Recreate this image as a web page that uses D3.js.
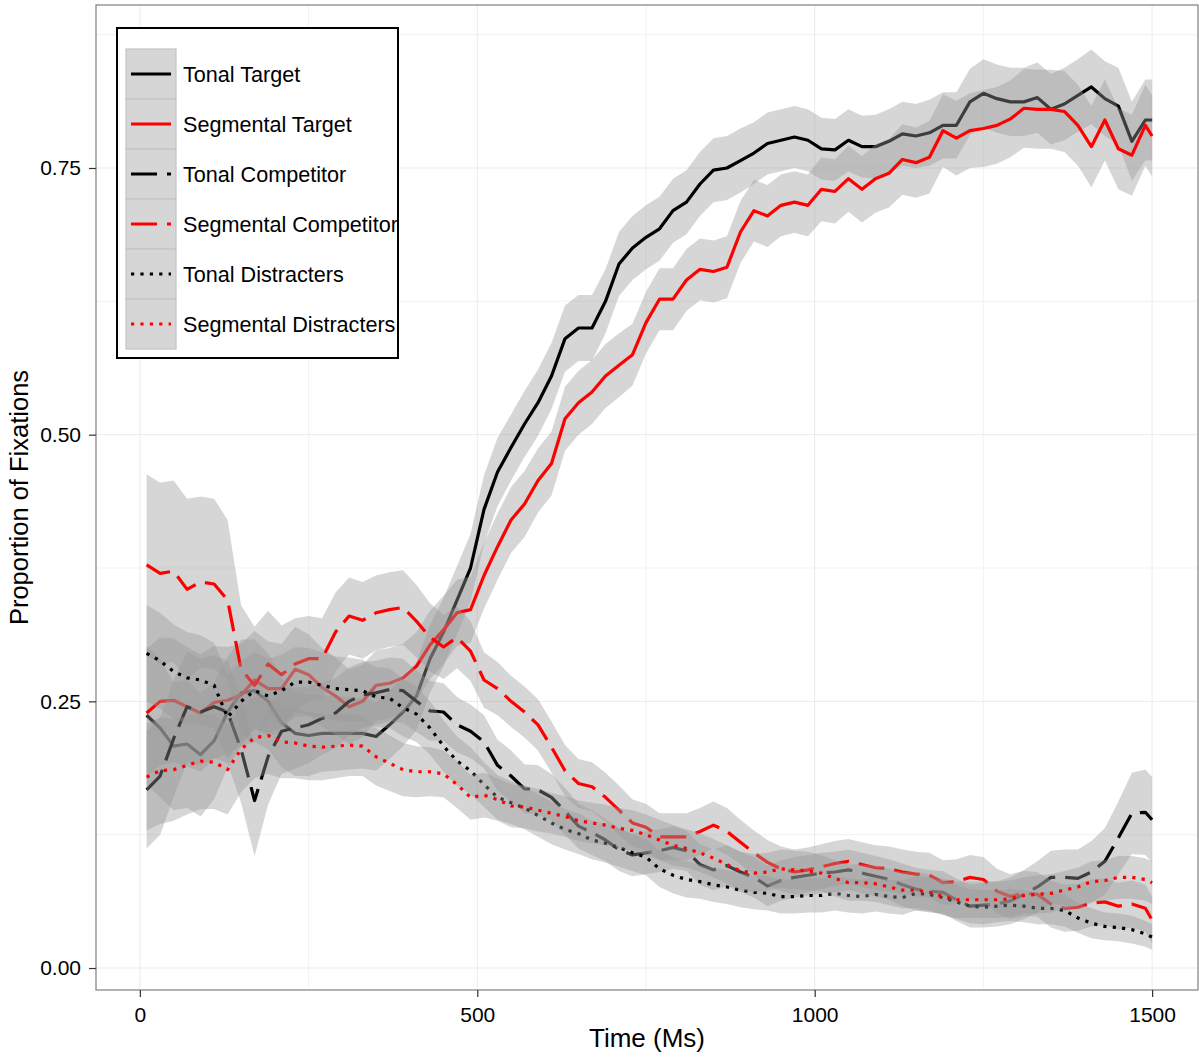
<!DOCTYPE html>
<html>
<head>
<meta charset="utf-8">
<script src="https://cdn.jsdelivr.net/npm/d3@7"></script>
<style>
  body { margin: 0; background: #fff; }
  text { font-family: "Liberation Sans", Arial, Helvetica, sans-serif; }
</style>
</head>
<body>
<div id="chart"></div>
<script>
// time bins (ms)
const time = d3.range(10, 1500, 20).concat([1500]);

// mean proportion of fixations per condition
const tonalTarget = [
    0.237, 0.225, 0.208, 0.21, 0.20, 0.213, 0.24, 0.258, 0.26, 0.25,
    0.23, 0.22, 0.218, 0.22, 0.22, 0.22, 0.22, 0.217, 0.228, 0.24,
    0.255, 0.29, 0.315, 0.345, 0.375, 0.43, 0.465, 0.488, 0.51, 0.53,
    0.555, 0.59, 0.60, 0.60, 0.625, 0.66, 0.675, 0.685, 0.693, 0.71,
    0.718, 0.735, 0.748, 0.75, 0.757, 0.764, 0.773, 0.776, 0.779, 0.776,
    0.768, 0.767, 0.776, 0.77, 0.77, 0.775, 0.782, 0.78, 0.783, 0.79,
    0.79, 0.812, 0.82, 0.815, 0.812, 0.812, 0.816, 0.805, 0.81, 0.818,
    0.826, 0.815, 0.808, 0.775, 0.795, 0.795];
const segmentalTarget = [
    0.239, 0.25, 0.251, 0.245, 0.239, 0.249, 0.251, 0.256, 0.27, 0.262,
    0.262, 0.28, 0.275, 0.263, 0.255, 0.245, 0.25, 0.265, 0.267, 0.272,
    0.283, 0.303, 0.317, 0.333, 0.336, 0.368, 0.395, 0.42, 0.435, 0.457,
    0.473, 0.515, 0.53, 0.54, 0.555, 0.565, 0.575, 0.605, 0.627, 0.627,
    0.645, 0.655, 0.653, 0.657, 0.69, 0.71, 0.705, 0.715, 0.718, 0.715,
    0.73, 0.728, 0.74, 0.73, 0.74, 0.745, 0.758, 0.755, 0.76, 0.785,
    0.778, 0.785, 0.787, 0.79, 0.796, 0.806, 0.805, 0.805, 0.803, 0.79,
    0.77, 0.795, 0.768, 0.762, 0.79, 0.78];
const tonalCompetitor = [
    0.167, 0.18, 0.215, 0.245, 0.24, 0.245, 0.24, 0.205, 0.157, 0.198,
    0.222, 0.225, 0.228, 0.234, 0.239, 0.25, 0.256, 0.258, 0.261, 0.26,
    0.25, 0.241, 0.24, 0.228, 0.222, 0.212, 0.19, 0.18, 0.168, 0.167,
    0.16, 0.147, 0.133, 0.127, 0.12, 0.111, 0.106, 0.108, 0.11, 0.113,
    0.11, 0.097, 0.092, 0.096, 0.09, 0.085, 0.077, 0.082, 0.085, 0.087,
    0.089, 0.09, 0.092, 0.089, 0.086, 0.083, 0.078, 0.074, 0.072, 0.071,
    0.064, 0.058, 0.059, 0.06, 0.063, 0.069, 0.076, 0.085, 0.085, 0.084,
    0.09, 0.10, 0.122, 0.145, 0.146, 0.139];
const segmentalCompetitor = [
    0.378, 0.37, 0.372, 0.355, 0.362, 0.36, 0.345, 0.28, 0.265, 0.285,
    0.275, 0.285, 0.29, 0.29, 0.315, 0.33, 0.326, 0.333, 0.336, 0.338,
    0.325, 0.31, 0.301, 0.31, 0.297, 0.27, 0.262, 0.25, 0.24, 0.228,
    0.207, 0.185, 0.173, 0.17, 0.16, 0.148, 0.136, 0.132, 0.123, 0.123,
    0.123, 0.128, 0.134, 0.128, 0.118, 0.108, 0.099, 0.093, 0.09, 0.092,
    0.095, 0.098, 0.10, 0.097, 0.094, 0.093, 0.09, 0.088, 0.087, 0.08,
    0.081, 0.085, 0.083, 0.072, 0.067, 0.07, 0.069, 0.06, 0.056, 0.057,
    0.061, 0.062, 0.058, 0.06, 0.056, 0.045];
const tonalDistracters = [
    0.295, 0.288, 0.278, 0.272, 0.27, 0.265, 0.235, 0.25, 0.26, 0.255,
    0.26, 0.268, 0.268, 0.265, 0.262, 0.261, 0.26, 0.254, 0.253, 0.244,
    0.238, 0.225, 0.208, 0.194, 0.185, 0.172, 0.16, 0.155, 0.15, 0.143,
    0.136, 0.13, 0.126, 0.12, 0.117, 0.113, 0.108, 0.104, 0.093, 0.087,
    0.083, 0.081, 0.078, 0.076, 0.073, 0.071, 0.07, 0.067, 0.067, 0.068,
    0.068, 0.07, 0.068, 0.067, 0.069, 0.067, 0.066, 0.07, 0.069, 0.066,
    0.062, 0.058, 0.057, 0.058, 0.059, 0.058, 0.056, 0.056, 0.054, 0.047,
    0.042, 0.039, 0.038, 0.036, 0.032, 0.029];
const segmentalDistracters = [
    0.179, 0.185, 0.186, 0.19, 0.194, 0.193, 0.186, 0.205, 0.216, 0.218,
    0.212, 0.211, 0.208, 0.207, 0.208, 0.209, 0.208, 0.198, 0.192, 0.186,
    0.184, 0.184, 0.182, 0.172, 0.16, 0.162, 0.158, 0.152, 0.151, 0.148,
    0.145, 0.142, 0.138, 0.136, 0.134, 0.131, 0.129, 0.125, 0.12, 0.115,
    0.112, 0.108, 0.103, 0.097, 0.091, 0.089, 0.09, 0.093, 0.092, 0.091,
    0.089, 0.084, 0.08, 0.08, 0.079, 0.076, 0.073, 0.073, 0.071, 0.067,
    0.064, 0.064, 0.064, 0.064, 0.065, 0.068, 0.069, 0.07, 0.073, 0.076,
    0.081, 0.082, 0.085, 0.085, 0.083, 0.08];

// half-width of the confidence band per condition
const seTonalTarget = [
    0.065, 0.065, 0.06, 0.06, 0.058, 0.055, 0.052, 0.05, 0.048, 0.045,
    0.042, 0.04, 0.038, 0.036, 0.035, 0.034, 0.033, 0.032, 0.032, 0.032,
    0.032, 0.032, 0.032, 0.032, 0.032, 0.032, 0.032, 0.031, 0.031, 0.031,
    0.031, 0.031, 0.031, 0.031, 0.03, 0.03, 0.03, 0.03, 0.03, 0.03,
    0.03, 0.03, 0.03, 0.03, 0.03, 0.029, 0.029, 0.029, 0.029, 0.029,
    0.029, 0.029, 0.029, 0.029, 0.03, 0.03, 0.03, 0.03, 0.031, 0.031,
    0.031, 0.031, 0.032, 0.032, 0.032, 0.032, 0.033, 0.033, 0.034, 0.034,
    0.035, 0.035, 0.036, 0.037, 0.038, 0.038];
const seSegmentalTarget = [
    0.06, 0.06, 0.058, 0.056, 0.055, 0.053, 0.05, 0.048, 0.046, 0.044,
    0.042, 0.04, 0.038, 0.037, 0.036, 0.035, 0.034, 0.033, 0.033, 0.032,
    0.032, 0.032, 0.032, 0.031, 0.031, 0.031, 0.031, 0.031, 0.031, 0.03,
    0.03, 0.03, 0.03, 0.03, 0.03, 0.03, 0.029, 0.029, 0.029, 0.029,
    0.029, 0.029, 0.029, 0.029, 0.029, 0.029, 0.029, 0.029, 0.029, 0.029,
    0.03, 0.03, 0.031, 0.031, 0.032, 0.032, 0.033, 0.033, 0.034, 0.034,
    0.035, 0.035, 0.036, 0.036, 0.036, 0.037, 0.037, 0.037, 0.038, 0.038,
    0.038, 0.038, 0.038, 0.038, 0.038, 0.038];
const seTonalCompetitor = [
    0.055, 0.055, 0.055, 0.052, 0.05, 0.048, 0.048, 0.05, 0.052, 0.045,
    0.04, 0.038, 0.036, 0.034, 0.033, 0.032, 0.031, 0.03, 0.03, 0.03,
    0.029, 0.028, 0.027, 0.026, 0.025, 0.025, 0.024, 0.024, 0.023, 0.023,
    0.022, 0.022, 0.021, 0.021, 0.02, 0.02, 0.02, 0.02, 0.02, 0.02,
    0.019, 0.019, 0.019, 0.019, 0.019, 0.019, 0.019, 0.019, 0.019, 0.019,
    0.019, 0.019, 0.019, 0.019, 0.019, 0.019, 0.02, 0.02, 0.02, 0.02,
    0.02, 0.02, 0.021, 0.021, 0.022, 0.023, 0.024, 0.025, 0.026, 0.027,
    0.029, 0.031, 0.034, 0.038, 0.04, 0.04];
const seSegmentalCompetitor = [
    0.085, 0.085, 0.085, 0.085, 0.08, 0.08, 0.075, 0.06, 0.055, 0.05,
    0.046, 0.043, 0.04, 0.038, 0.037, 0.036, 0.036, 0.035, 0.035, 0.035,
    0.034, 0.032, 0.03, 0.029, 0.028, 0.026, 0.025, 0.024, 0.024, 0.024,
    0.024, 0.024, 0.023, 0.023, 0.023, 0.023, 0.022, 0.022, 0.022, 0.022,
    0.022, 0.022, 0.022, 0.022, 0.021, 0.021, 0.021, 0.021, 0.021, 0.021,
    0.021, 0.021, 0.021, 0.021, 0.021, 0.021, 0.021, 0.021, 0.021, 0.021,
    0.021, 0.021, 0.021, 0.021, 0.021, 0.021, 0.021, 0.022, 0.022, 0.022,
    0.022, 0.022, 0.022, 0.022, 0.022, 0.022];
const seTonalDistracters = [
    0.045, 0.045, 0.044, 0.043, 0.042, 0.04, 0.04, 0.038, 0.036, 0.035,
    0.034, 0.033, 0.032, 0.031, 0.03, 0.03, 0.029, 0.028, 0.028, 0.027,
    0.026, 0.025, 0.024, 0.023, 0.022, 0.021, 0.021, 0.02, 0.02, 0.02,
    0.02, 0.019, 0.019, 0.018, 0.018, 0.018, 0.017, 0.017, 0.017, 0.017,
    0.017, 0.016, 0.016, 0.016, 0.016, 0.016, 0.016, 0.016, 0.016, 0.016,
    0.016, 0.016, 0.016, 0.016, 0.016, 0.016, 0.016, 0.016, 0.016, 0.016,
    0.016, 0.016, 0.016, 0.015, 0.015, 0.015, 0.015, 0.015, 0.015, 0.014,
    0.014, 0.013, 0.013, 0.013, 0.012, 0.012];
const seSegmentalDistracters = [
    0.05, 0.05, 0.048, 0.046, 0.045, 0.044, 0.042, 0.04, 0.038, 0.036,
    0.034, 0.033, 0.032, 0.031, 0.03, 0.029, 0.028, 0.027, 0.026, 0.025,
    0.024, 0.023, 0.022, 0.022, 0.021, 0.021, 0.02, 0.02, 0.02, 0.02,
    0.019, 0.019, 0.019, 0.019, 0.019, 0.019, 0.019, 0.019, 0.019, 0.019,
    0.018, 0.018, 0.018, 0.018, 0.018, 0.018, 0.018, 0.018, 0.018, 0.018,
    0.017, 0.017, 0.017, 0.017, 0.017, 0.017, 0.017, 0.017, 0.017, 0.017,
    0.017, 0.017, 0.017, 0.017, 0.017, 0.017, 0.018, 0.018, 0.018, 0.018,
    0.019, 0.019, 0.02, 0.02, 0.02, 0.02];

const conditions = ['Tonal Target', 'Segmental Target', 'Tonal Competitor',
    'Segmental Competitor', 'Tonal Distracters', 'Segmental Distracters'];
const xTicks = [0, 500, 1000, 1500];
const yTicks = [0, 0.25, 0.5, 0.75];

const width = 1199, height = 1057;
const panel = { left: 96, top: 5, right: 1198, bottom: 990 };

// one entry per condition, in drawing order (ribbon then line for each)
const series = [
    { name: conditions[0], values: tonalTarget, se: seTonalTarget, color: '#000000', dash: null },
    { name: conditions[1], values: segmentalTarget, se: seSegmentalTarget, color: '#ff0000', dash: null },
    { name: conditions[2], values: tonalCompetitor, se: seTonalCompetitor, color: '#000000', dash: '26,10' },
    { name: conditions[3], values: segmentalCompetitor, se: seSegmentalCompetitor, color: '#ff0000', dash: '26,10' },
    { name: conditions[4], values: tonalDistracters, se: seTonalDistracters, color: '#000000', dash: '3.2,6.2' },
    { name: conditions[5], values: segmentalDistracters, se: seSegmentalDistracters, color: '#ff0000', dash: '3.2,6.2' },
];

const svg = d3.select('#chart')
    .append('svg')
    .attr('width', width)
    .attr('height', height);

const x = d3.scaleLinear().domain([-65, 1568]).range([panel.left, panel.right]);
const y = d3.scaleLinear().domain([-0.0206, 0.9028]).range([panel.bottom, panel.top]);

svg.append('clipPath')
    .attr('id', 'panelClip')
    .append('rect')
    .attr('x', panel.left).attr('y', panel.top)
    .attr('width', panel.right - panel.left).attr('height', panel.bottom - panel.top);

// grid: minor first, then major
const xMinor = [250, 750, 1250];
const yMinor = [0.125, 0.375, 0.625, 0.875];
const grid = svg.append('g');
grid.selectAll('.xminor').data(xMinor).join('line')
    .attr('x1', d => x(d)).attr('x2', d => x(d))
    .attr('y1', panel.top).attr('y2', panel.bottom)
    .attr('stroke', '#f4f4f4').attr('stroke-width', 1.2);
grid.selectAll('.yminor').data(yMinor).join('line')
    .attr('x1', panel.left).attr('x2', panel.right)
    .attr('y1', d => y(d)).attr('y2', d => y(d))
    .attr('stroke', '#f4f4f4').attr('stroke-width', 1.2);
grid.selectAll('.xmajor').data(xTicks).join('line')
    .attr('x1', d => x(d)).attr('x2', d => x(d))
    .attr('y1', panel.top).attr('y2', panel.bottom)
    .attr('stroke', '#ebebeb').attr('stroke-width', 1);
grid.selectAll('.ymajor').data(yTicks).join('line')
    .attr('x1', panel.left).attr('x2', panel.right)
    .attr('y1', d => y(d)).attr('y2', d => y(d))
    .attr('stroke', '#ebebeb').attr('stroke-width', 1);

const area = d3.area()
    .x((d, i) => x(time[i]))
    .y0(d => y(d.v - d.se))
    .y1(d => y(d.v + d.se));
const line = d3.line()
    .x((d, i) => x(time[i]))
    .y(d => y(d.v));

const plot = svg.append('g').attr('clip-path', 'url(#panelClip)');
series.forEach(function (s) {
    const pts = s.values.map((v, i) => ({ v: v, se: s.se[i] }));
    plot.append('path')
        .attr('d', area(pts))
        .attr('fill', '#999999')
        .attr('fill-opacity', 0.4);
    plot.append('path')
        .attr('d', line(pts))
        .attr('fill', 'none')
        .attr('stroke', s.color)
        .attr('stroke-width', 3.2)
        .attr('stroke-linejoin', 'round')
        .attr('stroke-dasharray', s.dash);
});

// panel border
svg.append('rect')
    .attr('x', panel.left).attr('y', panel.top)
    .attr('width', panel.right - panel.left).attr('height', panel.bottom - panel.top)
    .attr('fill', 'none').attr('stroke', '#7f7f7f').attr('stroke-width', 1.2);

// axes
const yAxis = svg.append('g')
    .attr('transform', 'translate(' + panel.left + ',0)')
    .call(d3.axisLeft(y).tickValues(yTicks).tickFormat(d3.format('.2f')).tickSize(7).tickPadding(8));
const xAxis = svg.append('g')
    .attr('transform', 'translate(0,' + panel.bottom + ')')
    .call(d3.axisBottom(x).tickValues(xTicks).tickFormat(d3.format('d')).tickSize(7).tickPadding(10));
[yAxis, xAxis].forEach(function (a) {
    a.select('.domain').remove();
    a.selectAll('.tick line').attr('stroke', '#333').attr('stroke-width', 1.2);
    a.selectAll('.tick text')
        .attr('fill', '#000')
        .style('font-size', '21px')
        .style('font-family', '"Liberation Sans", Arial, Helvetica, sans-serif');
});

svg.append('text')
    .attr('x', (panel.left + panel.right) / 2)
    .attr('y', 1047)
    .attr('text-anchor', 'middle')
    .style('font-size', '26px')
    .text('Time (Ms)');

svg.append('text')
    .attr('transform', 'translate(28,' + (panel.top + panel.bottom) / 2 + ') rotate(-90)')
    .attr('text-anchor', 'middle')
    .style('font-size', '25.5px')
    .text('Proportion of Fixations');

// legend
const legend = svg.append('g').attr('transform', 'translate(117,28)');
legend.append('rect')
    .attr('width', 281).attr('height', 330)
    .attr('fill', '#fff').attr('stroke', '#000').attr('stroke-width', 2);
const keys = legend.selectAll('.key').data(series).join('g')
    .attr('transform', (d, i) => 'translate(9,' + (21 + i * 50) + ')');
keys.append('rect')
    .attr('width', 50).attr('height', 50)
    .attr('fill', '#d6d6d6').attr('stroke', '#c4c4c4').attr('stroke-width', 1.2);
keys.append('line')
    .attr('x1', 5).attr('x2', 45).attr('y1', 25).attr('y2', 25)
    .attr('stroke', d => d.color)
    .attr('stroke-width', 3.2)
    .attr('stroke-dasharray', d => d.dash);
keys.append('text')
    .attr('x', 57).attr('y', 33)
    .style('font-size', '21.6px')
    .text(d => d.name);
</script>
</body>
</html>
